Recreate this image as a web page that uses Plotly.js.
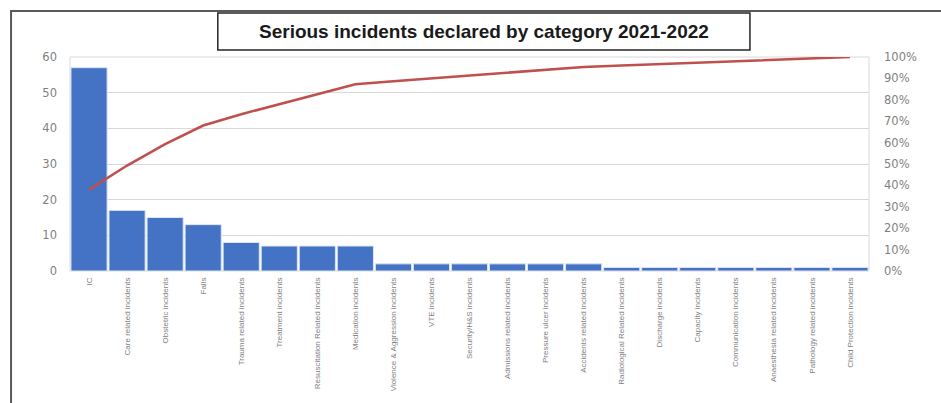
<!DOCTYPE html>
<html><head><meta charset="utf-8">
<script src="https://cdn.plot.ly/plotly-3.0.1.min.js"></script>
<style>html,body{margin:0;padding:0;background:#fff;}#chart{width:941px;height:403px;}</style>
</head><body><div id="chart"></div>
<script>
const categories = ["IC","Care related incidents","Obstetric incidents","Falls","Trauma related incidents","Treatment incidents","Resuscitation Related incidents","Medication incidents","Violence & Aggression incidents","VTE incidents","Security/H&S incidents","Admissions related incidents","Pressure ulcer incidents","Accidents related incidents","Radiological Related incidents","Discharge incidents","Capacity incidents","Communication incidents","Anaesthesia related incidents","Pathology related incidents","Child Protection incidents"];
const counts = [57,17,15,13,8,7,7,7,2,2,2,2,2,2,1,1,1,1,1,1,1];
const cumulativePct = [38.0,49.3,59.3,68.0,73.3,78.0,82.7,87.3,88.7,90.0,91.3,92.7,94.0,95.3,96.0,96.7,97.3,98.0,98.7,99.3,100.0];
const leftTicks = [0,10,20,30,40,50,60];
const rightTicks = [0,10,20,30,40,50,60,70,80,90,100];
const titleText = "Serious incidents declared by category 2021-2022";

const tickFont = {family:"DejaVu Sans, sans-serif", size:11.5, color:"#7f7f7f"};

const data = [
  {type:"bar", x:categories, y:counts, marker:{color:"#4472c4", line:{color:"#dbe5f5", width:1}}, hoverinfo:"x+y"},
  {type:"scatter", mode:"lines", x:categories, y:cumulativePct, yaxis:"y2", line:{color:"#c0504d", width:2.6}}
];

const layout = {
  width:941, height:403,
  margin:{l:70, r:72, t:57, b:132},
  paper_bgcolor:"#ffffff", plot_bgcolor:"#ffffff",
  showlegend:false, bargap:0.05,
  xaxis:{type:"category", range:[-0.5,20.5], tickangle:-90, ticks:"", showgrid:false, zeroline:false,
         tickfont:{family:"Liberation Sans Narrow, Liberation Sans, Arial, sans-serif", size:8, color:"#7f7f7f"}, automargin:false, showline:false, ticklabelstandoff:4},
  yaxis:{range:[0,60], tickvals:leftTicks, ticktext:leftTicks.map(String), showgrid:true, gridcolor:"#d9d9d9", gridwidth:1,
         zeroline:false, tickfont:tickFont, ticks:"", ticklabelstandoff:12, automargin:false, showline:false},
  yaxis2:{range:[0,100], overlaying:"y", side:"right", tickvals:rightTicks, ticktext:rightTicks.map(v=>v+"%"),
          showgrid:false, zeroline:false, tickfont:tickFont, ticks:"", ticklabelstandoff:14, automargin:false},
  shapes:[
    {type:"rect", xref:"paper", yref:"paper", x0:0, x1:1, y0:0, y1:1, line:{color:"#d9d9d9", width:1}, layer:"below"},
    {type:"rect", xref:"paper", yref:"paper", x0:-0.0738, x1:1.2, y0:-0.8, y1:1.215, line:{color:"#595959", width:2}},
    {type:"rect", xref:"paper", yref:"paper", x0:0.185, x1:0.851, y0:1.033, y1:1.206, line:{color:"#262626", width:1.5}, fillcolor:"#ffffff"}
  ],
  annotations:[
    {xref:"paper", yref:"paper", x:0.518, y:1.12, text:"<b>"+titleText+"</b>", showarrow:false,
     font:{family:"Liberation Sans, Arial, sans-serif", size:19, color:"#1a1a1a"}, xanchor:"center", yanchor:"middle"}
  ]
};
Plotly.newPlot("chart", data, layout, {displayModeBar:false, staticPlot:true});
</script></body></html>
